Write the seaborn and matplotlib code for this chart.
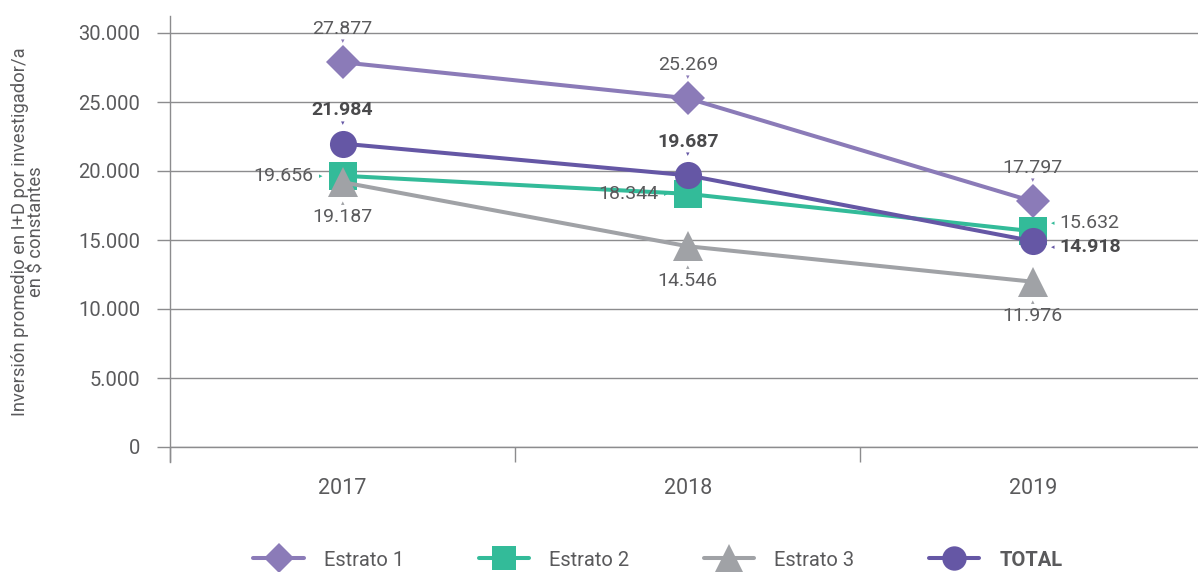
import matplotlib
matplotlib.use('Agg')
import matplotlib.pyplot as plt
import seaborn as sns
import pandas as pd
from matplotlib.lines import Line2D

years = ['2017', '2018', '2019']
estrato_1 = [27877, 25269, 17797]
estrato_2 = [19656, 18344, 15632]
estrato_3 = [19187, 14546, 11976]
total = [21984, 19687, 14918]
series_names = ['Estrato 1', 'Estrato 2', 'Estrato 3', 'TOTAL']
y_ticks = [0, 5000, 10000, 15000, 20000, 25000, 30000]

colors = ['#8b7bb8', '#33bb99', '#a0a2a6', '#6557a5']
markers = ['D', 's', '^', 'o']
msizes = [17, 19.5, 22, 19.5]
# where each value label sits relative to its point
label_pos = [['up', 'up', 'up'],
             ['left', 'left', 'right'],
             ['down', 'down', 'down'],
             ['up', 'up', 'right']]

sns.set_theme(style='white')
plt.rcParams['font.family'] = ['Roboto', 'DejaVu Sans']
text_col = '#5a5a5c'
grid_col = '#8c8c8e'

def fmt(v):
    return f'{v:,}'.replace(',', '.')

fig = plt.figure(figsize=(11.98, 5.72), dpi=100)
ax = fig.add_axes([170 / 1198, 1 - 447 / 572, 1 - 170 / 1198, (447 - 16) / 572])

df = pd.DataFrame({'year': list(range(len(years))) * 4,
                   'value': estrato_1 + estrato_2 + estrato_3 + total,
                   'serie': [s for s in series_names for _ in years]})

for i, name in enumerate(series_names):
    sub = df[df['serie'] == name]
    sns.lineplot(data=sub, x='year', y='value', ax=ax, color=colors[i], marker=markers[i],
                 markersize=msizes[i], markeredgewidth=0, linewidth=2.9, legend=False, zorder=3 + i)
    bold = name == 'TOTAL'
    for x, v, pos in zip(sub['year'], sub['value'], label_pos[i]):
        if pos == 'up':
            off, arr, ha, glyph = (0, 24), (0, 15), 'center', '▾'
        elif pos == 'down':
            off, arr, ha, glyph = (0, -25), (0, -15), 'center', '▴'
        elif pos == 'left':
            off, arr, ha, glyph = (-21, 0), (-16, 0), 'right', '▸'
        else:
            dy = 6 if name != 'TOTAL' else -4
            off, arr, ha, glyph = (19, dy), (14, dy), 'left', '◂'
        ax.annotate(fmt(int(v)), (x, v), xytext=off, textcoords='offset points', ha=ha, va='center',
                    fontsize=14, color='#4a4a4c' if bold else text_col,
                    fontweight='bold' if bold else 'normal', zorder=10)
        ax.annotate(glyph, (x, v), xytext=arr, textcoords='offset points', ha='center', va='center',
                    fontsize=5, color=colors[i], family='DejaVu Sans', zorder=10)

ax.set_xlim(-0.5, (1198 - 343) / 345)
ax.set_ylim(0, 30000 + (33 - 16) / 414 * 30000)
ax.set_yticks(y_ticks)
ax.set_yticklabels([fmt(t) for t in y_ticks])
ax.set_xticks(range(len(years)))
ax.set_xticklabels(years)
ax.set_xticks([-0.5, 0.5, 1.5], minor=True)
ax.tick_params(axis='x', which='major', length=0, pad=22, labelsize=15.5, labelcolor=text_col)
ax.tick_params(axis='x', which='minor', length=11, width=1, color=grid_col, direction='out', bottom=True)
ax.tick_params(axis='y', which='major', length=9.5, width=1, color=grid_col, direction='out', left=True,
               pad=12, labelsize=14.5, labelcolor=text_col)
ax.grid(axis='y', color=grid_col, linewidth=1)
ax.grid(axis='x', visible=False)
ax.axhline(0, color=grid_col, linewidth=1, clip_on=False, zorder=1)
for s in ['top', 'right', 'bottom']:
    ax.spines[s].set_visible(False)
ax.spines['left'].set_color(grid_col)
ax.spines['left'].set_linewidth(1)
ax.spines['left'].set_bounds(-1100, ax.get_ylim()[1])
ax.set_xlabel('')
ax.set_ylabel('Inversión promedio en I+D por investigador/a\nen $ constantes', fontsize=13.2,
              color=text_col, linespacing=0.95)
ax.yaxis.set_label_coords(-124 / 1028, 0.5)

handles = [Line2D([], [], color=colors[i], marker=markers[i], markersize=msizes[i] * 0.9,
                  markeredgewidth=0, linewidth=2.9) for i in range(4)]
leg = fig.legend(handles, series_names, loc='center', bbox_to_anchor=(658 / 1198, 1 - 560 / 572),
                 ncol=4, frameon=False, fontsize=14.5, handlelength=2.5, columnspacing=3.7,
                 handletextpad=1.0, labelcolor=text_col)
leg.get_texts()[3].set_fontweight('bold')

fig.savefig('out.png', dpi=100)
